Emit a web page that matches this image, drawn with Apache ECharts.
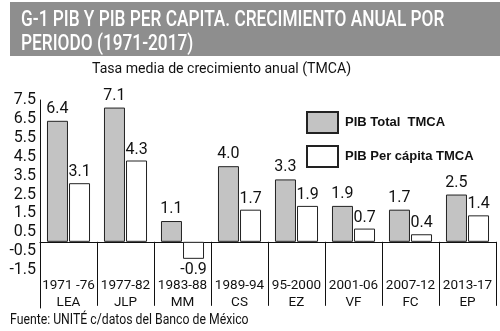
<!DOCTYPE html>
<html>
<head>
<meta charset="utf-8">
<script src="https://cdn.jsdelivr.net/npm/echarts@6/dist/echarts.min.js"></script>
<style>
  html, body { margin: 0; padding: 0; background: #fff; }
  #chart { width: 500px; height: 331px; }
</style>
</head>
<body>
<div id="chart"></div>
<script>
// Periods (presidential terms) and growth rates, in percent
const periods = ['1971 -76', '1977-82', '1983-88', '1989-94', '95-2000', '2001-06', '2007-12', '2013-17'];
const presidents = ['LEA', 'JLP', 'MM', 'CS', 'EZ', 'VF', 'FC', 'EP'];
const pibTotal = [6.4, 7.1, 1.1, 4.0, 3.3, 1.9, 1.7, 2.5];
const pibPerCapita = [3.1, 4.3, -0.9, 1.7, 1.9, 0.7, 0.4, 1.4];
const seriesNames = ['PIB Total  TMCA', 'PIB Per cápita TMCA'];

const categories = periods.map((p, i) => p + '\n' + presidents[i]);

// Negative bars carry their value label underneath
const toData = arr => arr.map(v => v < 0 ? { value: v, label: { position: 'bottom' } } : v);

const chart = echarts.init(document.getElementById('chart'), null, { renderer: 'canvas' });

const numFont = { fontFamily: 'Roboto', color: '#111' };

chart.setOption({
  animation: false,
  backgroundColor: '#fff',
  graphic: [
    { type: 'rect', shape: { x: 10, y: 2, width: 490, height: 54 }, style: { fill: '#8e8e8e' } },
    {
      type: 'text', x: 21, y: 9, scaleX: 0.785,
      style: { text: 'G-1 PIB Y PIB PER CAPITA. CRECIMIENTO ANUAL POR', fill: '#fff', font: '500 22px Roboto' }
    },
    {
      type: 'text', x: 21, y: 33, scaleX: 0.785,
      style: { text: 'PERIODO (1971-2017)', fill: '#fff', font: '500 22px Roboto' }
    },
    {
      type: 'text', x: 92, y: 62, scaleX: 0.94,
      style: { text: 'Tasa media de crecimiento anual (TMCA)', fill: '#111', font: '15px Roboto' }
    },
    {
      type: 'text', x: 10, y: 313, scaleX: 0.875,
      style: { text: 'Fuente: UNITÉ c/datos del Banco de México', fill: '#111', font: '14px Roboto' }
    }
  ],
  legend: {
    orient: 'vertical',
    left: 306,
    top: 111,
    padding: 0,
    itemWidth: 31,
    itemHeight: 21,
    itemGap: 11,
    icon: 'rect',
    textStyle: { fontFamily: 'Liberation Sans', fontWeight: 'bold', fontSize: 13, color: '#111', padding: [0, 0, 0, 2] },
    data: seriesNames
  },
  grid: { left: 40, right: 4, top: 100, bottom: 23, outerBoundsMode: 'none', containLabel: false },
  xAxis: {
    type: 'category',
    data: categories,
    axisLine: { onZero: true, lineStyle: { color: '#111', width: 1 } },
    axisTick: { show: true, length: 64, interval: 0, lineStyle: { color: '#111' } },
    axisLabel: {
      interval: 0, margin: -31, lineHeight: 17, fontSize: 13.5, align: 'center',
      fontFamily: 'Roboto', color: '#111'
    }
  },
  yAxis: {
    type: 'value',
    min: -3.5,
    max: 7.5,
    interval: 1,
    axisLine: { show: true, lineStyle: { color: '#111', width: 1 } },
    axisTick: { show: false },
    splitLine: { show: false },
    axisLabel: {
      margin: 4,
      fontSize: 16,
      showMinLabel: true,
      showMaxLabel: true,
      ...numFont,
      formatter: v => v >= -1.5 ? v.toFixed(1) : ''
    }
  },
  series: [
    {
      name: seriesNames[0],
      type: 'bar',
      data: toData(pibTotal),
      barWidth: 21,
      barGap: '5%',
      itemStyle: { color: '#c3c3c3', borderColor: '#222', borderWidth: 1 },
      label: { show: true, position: 'top', distance: 4, fontSize: 16, ...numFont, formatter: p => p.value.toFixed(1) }
    },
    {
      name: seriesNames[1],
      type: 'bar',
      data: toData(pibPerCapita),
      barWidth: 21,
      itemStyle: { color: '#ffffff', borderColor: '#222', borderWidth: 1 },
      label: { show: true, position: 'top', distance: 3, fontSize: 16, ...numFont, formatter: p => p.value.toFixed(1) }
    }
  ]
});
</script>
</body>
</html>
